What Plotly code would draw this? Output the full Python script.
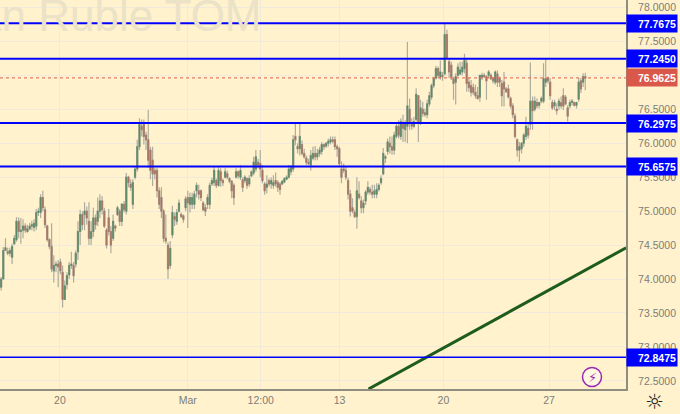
import numpy as np
import plotly.graph_objects as go

highs = [
    74.03, 74.47, 74.60, 74.46, 74.46, 74.52, 74.65, 74.91, 74.91, 74.90, 74.88, 74.82, 74.80, 74.83, 74.86, 74.88, 75.03, 75.05, 75.25, 75.30, 75.07, 74.80, 74.60, 74.82, 74.35, 74.26, 74.28, 74.30, 74.20, 73.98, 74.10, 74.25, 74.40, 74.25, 74.42, 74.85, 75.02, 75.00, 75.13, 75.07, 75.13, 74.85, 75.05, 74.95, 75.20, 75.25, 75.22, 75.05, 74.75,
    75.03, 74.78, 74.95, 74.80, 75.08, 75.03, 75.12, 75.15, 75.56, 75.52, 75.47, 75.47, 75.66, 76.05, 76.37, 76.35, 76.35, 76.17, 76.49, 75.95, 75.95, 75.64, 75.64, 75.35, 75.35, 75.03, 74.95, 74.54, 74.56, 75.08, 74.98, 75.03, 75.17, 74.98, 74.95, 75.22, 75.30, 75.27, 75.27, 75.30, 75.42, 75.39, 75.32, 75.15, 75.10, 75.25, 75.42, 75.49, 75.66,
    75.48, 75.65, 75.63, 75.48, 75.63, 75.60, 75.50, 75.46, 75.41, 75.63, 75.60, 75.68, 75.50, 75.53, 75.50, 75.53, 75.60, 75.80, 75.90, 75.77, 75.90, 75.68, 75.43, 75.53, 75.48, 75.50, 75.53, 75.57, 75.46, 75.43, 75.46, 75.50, 75.53, 75.68, 75.68, 76.12, 76.29, 76.00, 76.29, 76.04, 75.92, 75.82, 75.77, 75.90, 75.95, 75.96, 75.92,
    75.95, 76.02, 76.00, 76.02, 76.07, 76.10, 76.10, 76.10, 75.98, 75.95, 75.73, 75.70, 75.66, 75.49, 75.31, 75.19, 75.02, 75.50, 75.44, 75.22, 75.17, 75.31, 75.44, 75.36, 75.39, 75.39, 75.41, 75.41, 75.53, 75.93, 75.83, 76.07, 76.10, 76.10, 76.17, 76.29, 76.34,
    76.37, 76.42, 76.34, 77.49, 76.66, 76.37, 76.39, 76.81, 76.39, 76.64, 76.61, 76.51, 76.64, 76.76, 76.88, 76.98, 77.14, 77.13, 77.22, 77.05, 77.77, 77.67, 77.25, 77.20, 76.98, 77.03, 77.18, 77.20, 77.20, 77.32, 77.25, 76.96, 76.93, 76.88, 76.86, 76.83, 77.00, 77.04, 77.03, 77.00, 77.08, 77.03, 76.98, 77.07, 77.07, 76.98, 76.93,
    77.05, 76.83, 76.86, 76.69, 76.59, 76.44, 76.07, 76.02, 76.02, 76.15, 76.39, 76.29, 77.19, 76.69, 76.69, 76.66, 76.61, 76.69, 77.18, 77.24, 76.98, 76.96, 76.64, 76.64, 76.59, 76.66, 76.69, 76.81, 76.71, 76.56, 76.64, 76.65, 76.61, 76.61, 76.96, 76.96, 77.03, 77.04,
]
lows = [
    73.83, 74.10, 74.42, 74.35, 74.33, 74.22, 74.50, 74.55, 74.60, 74.52, 74.60, 74.68, 74.68, 74.72, 74.72, 74.70, 74.72, 74.93, 74.90, 75.00, 74.75, 74.55, 74.44, 74.10, 73.95, 74.10, 73.88, 74.07, 73.58, 73.75, 73.85, 74.00, 74.15, 73.95, 74.17, 74.28, 74.50, 74.72, 74.72, 74.80, 74.50, 74.50, 74.62, 74.73, 74.78, 74.90, 74.95, 74.75, 74.45,
    74.64, 74.38, 74.56, 74.70, 74.93, 74.78, 74.78, 74.98, 74.95, 75.35, 75.30, 75.03, 75.47, 75.58, 75.90, 76.10, 75.98, 75.90, 75.64, 75.47, 75.37, 75.47, 75.20, 75.03, 74.90, 74.54, 74.52, 74.00, 74.15, 74.60, 74.78, 74.80, 74.98, 74.90, 74.83, 75.00, 74.75, 74.98, 75.03, 75.03, 75.20, 75.17, 75.15, 75.00, 74.93, 75.03, 75.03, 75.37, 75.37,
    75.34, 75.36, 75.36, 75.37, 75.48, 75.47, 75.41, 75.19, 75.09, 75.48, 75.48, 75.46, 75.28, 75.41, 75.33, 75.36, 75.50, 75.53, 75.58, 75.63, 75.50, 75.41, 75.24, 75.26, 75.36, 75.33, 75.33, 75.36, 75.28, 75.24, 75.38, 75.41, 75.46, 75.48, 75.53, 75.58, 75.97, 75.85, 75.82, 75.82, 75.77, 75.68, 75.68, 75.60, 75.75, 75.75, 75.75,
    75.80, 75.83, 75.90, 75.93, 75.95, 75.98, 76.00, 75.90, 75.80, 75.66, 75.41, 75.56, 75.46, 75.17, 74.92, 74.97, 74.90, 74.74, 75.17, 74.97, 74.97, 75.09, 75.24, 75.24, 75.19, 75.19, 75.19, 75.29, 75.39, 75.53, 75.71, 75.83, 75.85, 75.83, 75.83, 76.07, 76.07,
    76.05, 76.02, 76.02, 76.00, 76.20, 76.20, 76.22, 76.32, 76.02, 76.27, 76.39, 76.39, 76.37, 76.54, 76.64, 76.81, 76.94, 76.96, 76.94, 76.92, 77.00, 77.25, 76.96, 76.93, 76.64, 76.57, 76.98, 77.00, 77.00, 77.03, 76.76, 76.76, 76.69, 76.71, 76.66, 76.64, 76.61, 76.93, 76.96, 76.64, 76.96, 76.93, 76.88, 76.86, 76.83, 76.83, 76.54,
    76.54, 76.74, 76.66, 76.51, 76.37, 76.07, 75.80, 75.73, 75.85, 75.95, 76.05, 76.07, 76.20, 76.20, 76.47, 76.51, 76.51, 76.59, 76.59, 76.83, 76.88, 76.64, 76.49, 76.49, 76.42, 76.49, 76.51, 76.49, 76.56, 76.32, 76.51, 76.56, 76.54, 76.51, 76.61, 76.74, 76.83, 76.78,
]
opens = [
    73.88, 74.00, 74.42, 74.40, 74.38, 74.32, 74.52, 74.58, 74.85, 74.70, 74.72, 74.78, 74.70, 74.74, 74.78, 74.76, 74.78, 74.98, 74.98, 75.20, 75.02, 74.78, 74.58, 74.48, 74.12, 74.20, 74.22, 74.25, 74.10, 73.70, 73.92, 74.06, 74.20, 74.20, 74.22, 74.40, 74.70, 74.95, 74.95, 75.00, 74.85, 74.60, 74.70, 74.90, 74.85, 75.00, 75.15, 75.00, 74.72,
    74.90, 74.70, 74.60, 74.78, 74.95, 75.00, 74.85, 75.10, 75.00, 75.50, 75.40, 75.10, 75.50, 75.62, 75.95, 76.25, 76.28, 76.12, 76.05, 75.90, 75.75, 75.60, 75.60, 75.30, 75.20, 75.00, 74.60, 74.50, 74.20, 74.65, 74.92, 74.85, 75.00, 74.95, 74.93, 75.05, 75.20, 75.10, 75.10, 75.10, 75.30, 75.30, 75.30, 75.12, 75.05, 75.10, 75.10, 75.40, 75.42,
    75.45, 75.38, 75.58, 75.45, 75.50, 75.55, 75.48, 75.44, 75.38, 75.50, 75.58, 75.50, 75.46, 75.45, 75.48, 75.40, 75.52, 75.56, 75.62, 75.72, 75.70, 75.60, 75.40, 75.35, 75.45, 75.40, 75.38, 75.45, 75.42, 75.40, 75.40, 75.43, 75.47, 75.50, 75.58, 75.62, 76.10, 75.95, 75.92, 75.98, 75.85, 75.78, 75.72, 75.68, 75.78, 75.85, 75.80,
    75.85, 75.88, 75.98, 75.96, 76.00, 76.02, 76.05, 76.05, 75.95, 75.92, 75.62, 75.62, 75.60, 75.45, 75.25, 75.05, 74.98, 74.92, 75.25, 75.15, 75.05, 75.15, 75.28, 75.32, 75.28, 75.25, 75.25, 75.32, 75.42, 75.55, 75.78, 75.88, 76.00, 75.95, 75.90, 76.10, 76.25,
    76.10, 76.30, 76.20, 76.25, 76.50, 76.28, 76.25, 76.35, 76.70, 76.30, 76.50, 76.45, 76.42, 76.58, 76.68, 76.85, 76.96, 77.10, 76.98, 77.00, 77.02, 77.60, 77.20, 77.15, 76.95, 76.90, 77.00, 77.02, 77.05, 77.10, 77.18, 76.90, 76.85, 76.82, 76.75, 76.70, 76.68, 76.98, 77.00, 76.98, 77.00, 77.00, 76.95, 76.90, 77.02, 76.95, 76.88,
    76.90, 76.80, 76.80, 76.66, 76.55, 76.40, 76.05, 75.90, 75.92, 76.00, 76.10, 76.22, 76.28, 76.62, 76.50, 76.60, 76.56, 76.62, 76.62, 76.90, 76.96, 76.90, 76.60, 76.55, 76.50, 76.55, 76.60, 76.70, 76.68, 76.52, 76.55, 76.60, 76.60, 76.56, 76.65, 76.92, 76.90, 76.98,
]
closes = [
    74.00, 74.42, 74.46, 74.38, 74.42, 74.48, 74.60, 74.85, 74.70, 74.72, 74.78, 74.72, 74.74, 74.78, 74.80, 74.82, 74.98, 75.00, 75.20, 75.05, 74.80, 74.58, 74.48, 74.15, 74.20, 74.22, 74.18, 74.12, 73.70, 73.90, 74.05, 74.20, 74.22, 74.05, 74.38, 74.70, 74.95, 74.80, 75.00, 74.90, 74.60, 74.70, 74.90, 74.80, 75.00, 75.15, 75.02, 74.78, 74.50,
    74.70, 74.50, 74.85, 74.75, 75.05, 74.85, 75.10, 75.02, 75.50, 75.42, 75.35, 75.42, 75.62, 75.95, 76.28, 76.20, 76.10, 76.05, 75.75, 75.60, 75.55, 75.55, 75.30, 75.10, 75.00, 74.60, 74.56, 74.15, 74.45, 74.98, 74.88, 74.98, 75.12, 74.92, 74.88, 75.18, 75.12, 75.20, 75.20, 75.25, 75.38, 75.25, 75.20, 75.02, 75.00, 75.20, 75.38, 75.45, 75.60,
    75.38, 75.60, 75.45, 75.42, 75.58, 75.50, 75.44, 75.30, 75.20, 75.58, 75.52, 75.60, 75.35, 75.50, 75.38, 75.48, 75.58, 75.72, 75.80, 75.68, 75.62, 75.45, 75.30, 75.40, 75.40, 75.45, 75.42, 75.40, 75.35, 75.32, 75.44, 75.48, 75.50, 75.62, 75.64, 76.05, 76.05, 75.92, 76.10, 75.85, 75.80, 75.72, 75.70, 75.82, 75.85, 75.80, 75.85,
    75.90, 75.98, 75.95, 76.00, 76.03, 76.05, 76.03, 75.95, 75.92, 75.70, 75.50, 75.60, 75.50, 75.25, 75.00, 75.00, 74.92, 75.30, 75.20, 75.05, 75.12, 75.28, 75.35, 75.28, 75.25, 75.30, 75.32, 75.38, 75.48, 75.85, 75.80, 76.02, 75.95, 75.90, 76.12, 76.25, 76.12,
    76.32, 76.22, 76.28, 76.55, 76.30, 76.25, 76.32, 76.72, 76.30, 76.52, 76.44, 76.42, 76.58, 76.70, 76.85, 76.95, 77.10, 77.00, 77.05, 76.98, 77.60, 77.25, 77.05, 76.98, 76.88, 76.98, 77.12, 77.08, 77.12, 77.22, 76.88, 76.82, 76.75, 76.75, 76.70, 76.66, 77.00, 77.00, 76.98, 76.92, 77.05, 76.95, 76.92, 77.05, 76.90, 76.90, 76.70,
    76.80, 76.76, 76.68, 76.55, 76.42, 76.10, 75.90, 75.95, 76.00, 76.12, 76.25, 76.12, 76.62, 76.48, 76.62, 76.55, 76.60, 76.66, 76.95, 76.95, 76.92, 76.70, 76.52, 76.60, 76.48, 76.62, 76.55, 76.55, 76.58, 76.40, 76.60, 76.62, 76.56, 76.60, 76.90, 76.80, 76.98, 76.96,
]

levels = [77.7675, 77.245, 76.2975, 75.6575, 72.8475]
level_widths = [2, 2, 2, 2, 1.5]
last_price = 76.9625
y_ticks = [78.0, 77.5, 77.0, 76.5, 76.0, 75.5, 75.0, 74.5, 74.0, 73.5, 73.0, 72.5]
x_tick_pos = [26.8, 85.0, 118.2, 154.1, 201.4, 249.5]
x_tick_text = ["20", "Mar", "12:00", "13", "20", "27"]
trend_x = [167.3, 284.6]
trend_y = [72.38, 74.46]

W, H = 680, 414
PLOT_W, PLOT_H = 626, 389
BG = "#fff2cc"
TEXT = "#7d7d78"

x = np.arange(len(highs))
body_hi = np.maximum(opens, closes)
body_lo = np.minimum(opens, closes)

fig = go.Figure()
# full range in grey first, then the open/close part on top in a darker colour
fig.add_trace(go.Candlestick(
    x=x, open=body_lo, high=highs, low=lows, close=body_hi,
    increasing=dict(line=dict(color="#aeac9e", width=1.2), fillcolor="#aeac9e"),
    decreasing=dict(line=dict(color="#aeac9e", width=1.2), fillcolor="#aeac9e"),
    whiskerwidth=0,
))
fig.add_trace(go.Candlestick(
    x=x, open=opens, high=body_hi, low=body_lo, close=closes,
    increasing=dict(line=dict(color="#5a8a66", width=0.6), fillcolor="#5a8a66"),
    decreasing=dict(line=dict(color="#a87462", width=0.6), fillcolor="#a87462"),
    whiskerwidth=0,
))
fig.add_trace(go.Scatter(x=trend_x, y=trend_y, mode="lines", line=dict(color="#1e5c1e", width=3)))

for lev, lw in zip(levels, level_widths):
    fig.add_hline(y=lev, line_color="#0000ff", line_width=lw)
fig.add_hline(y=last_price, line_color="#e0604f", line_width=1, line_dash="dot")


def side_label(value, color):
    fig.add_annotation(
        xref="paper", yref="y", x=1.0, y=value, xanchor="left", yanchor="middle",
        text=f"<b>{value:.4f}</b>", showarrow=False, bgcolor=color, width=48, height=15,
        align="right", font=dict(color="white", size=10.5, family="Liberation Sans"), borderpad=1,
    )


for lev in levels:
    side_label(lev, "#0000ff")
side_label(last_price, "#d9584a")

# watermark, cut off by the left edge
fig.add_annotation(
    xref="paper", yref="paper", x=264 / PLOT_W, y=1 - 42 / PLOT_H, xanchor="right", yanchor="bottom",
    text="an Ruble TOM", showarrow=False, font=dict(size=44, color="#ebe2c8", family="Liberation Sans"),
)

# lightning badge
fig.add_shape(
    type="circle", xref="paper", yref="paper",
    x0=582.5 / PLOT_W, x1=601.5 / PLOT_W, y0=1 - 386.5 / PLOT_H, y1=1 - 367.5 / PLOT_H,
    line=dict(color="#9c27b0", width=1.5), fillcolor="#fff8e0",
)
fig.add_annotation(
    xref="paper", yref="paper", x=592 / PLOT_W, y=1 - 377 / PLOT_H, xanchor="center", yanchor="middle",
    text="⚡", showarrow=False, font=dict(size=13, color="#9c27b0", family="DejaVu Sans"),
)
# settings icon
fig.add_annotation(
    xref="paper", yref="paper", x=654 / PLOT_W, y=1 - 402 / PLOT_H, xanchor="center", yanchor="middle",
    text="☼", showarrow=False, font=dict(size=21, color="#222222", family="DejaVu Sans"),
)

fig.update_layout(
    width=W, height=H,
    margin=dict(l=0, r=W - PLOT_W, t=0, b=H - PLOT_H),
    paper_bgcolor=BG, plot_bgcolor=BG,
    showlegend=False,
    font=dict(family="Liberation Sans", size=11, color=TEXT),
    xaxis=dict(
        range=[-0.5, PLOT_W / 2.2 ], rangeslider=dict(visible=False),
        tickmode="array", tickvals=x_tick_pos, ticktext=x_tick_text,
        showgrid=True, gridcolor="#efeadb", gridwidth=1, zeroline=False,
        showline=True, linecolor="#8f8d80", linewidth=2, ticks="", tickfont=dict(size=10.5, color=TEXT),
    ),
    yaxis=dict(
        side="right", range=[72.38, 78.11],
        tickmode="array", tickvals=y_ticks, tickformat=".4f",
        showgrid=True, gridcolor="#efeadb", gridwidth=1, zeroline=False,
        showline=True, linecolor="#8f8d80", linewidth=2,
        ticks="outside", ticklen=8, tickcolor=BG, tickfont=dict(size=10.5, color=TEXT),
    ),
)

# the browser's default body margin would push the chart off the window
fig.write_html(
    "out.html",
    config={"displayModeBar": False},
    post_script="document.body.style.margin='0';document.body.style.overflow='hidden';",
)
